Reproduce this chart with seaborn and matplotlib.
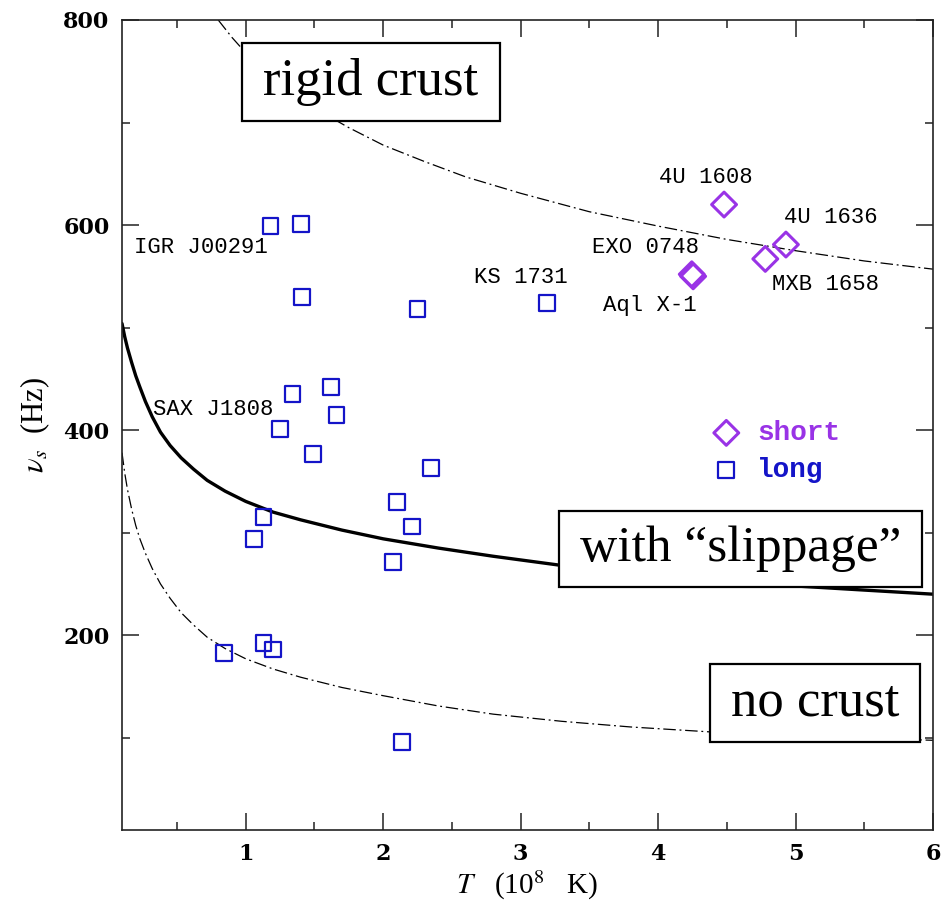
import matplotlib
matplotlib.use("Agg")
import matplotlib.pyplot as plt
from matplotlib.patches import Rectangle
from matplotlib.ticker import MultipleLocator
import seaborn as sns

# Spin frequency vs. core temperature of accreting neutron stars

# Short-recurrence (burst-oscillation) sources
short_names = ["4U 1608", "4U 1636", "MXB 1658", "EXO 0748", "Aql X-1"]
short_T = [4.48, 4.93, 4.78, 4.245, 4.255]
short_nu = [620, 581, 567, 552, 550]

# Long-recurrence sources
long_T = [1.18, 1.40, 1.41, 2.25, 3.19, 1.34, 1.62, 1.66, 1.25, 1.49,
          2.35, 2.10, 2.21, 1.13, 1.06, 2.07, 0.84, 1.13, 1.20, 2.14]
long_nu = [599, 601, 530, 518, 524, 435, 442, 415, 401, 377,
           363, 330, 306, 315, 294, 271, 183, 192, 186, 96]

# Source name annotations
label_text = ["IGR J00291", "SAX J1808", "KS 1731", "4U 1608", "4U 1636",
              "EXO 0748", "MXB 1658", "Aql X-1"]
label_T = [0.675, 0.76, 3.0, 4.35, 5.255, 3.91, 5.22, 3.94]
label_nu = [578, 420, 549, 646, 607, 578, 542, 522]

# Instability curves
rigid_T = [0.8, 0.9, 1.0, 1.15, 1.3, 1.5, 1.75, 2.0, 2.3, 2.6, 3.0, 3.5,
           4.0, 4.5, 5.0, 5.5, 6.0]
rigid_nu = [800, 783, 768, 750, 734, 714, 695, 678, 662, 647, 631, 613,
            599, 586, 575, 565, 557]

slip_T = [0.1, 0.12, 0.14, 0.17, 0.2, 0.23, 0.27, 0.32, 0.38, 0.45, 0.53,
          0.62, 0.72, 0.85, 1.0, 1.2, 1.4, 1.7, 2.0, 2.4, 2.8, 3.3, 3.8,
          4.4, 5.0, 5.5, 6.0]
slip_nu = [504, 491, 480, 466, 453, 442, 428, 413, 398, 385, 373,
           362, 351, 340.5, 330.5, 320, 312.5, 302.5, 294, 285, 277, 268, 261,
           254, 248, 244, 240]

nocrust_T = [0.1, 0.12, 0.14, 0.17, 0.2, 0.23, 0.27, 0.32, 0.38, 0.45, 0.53,
             0.62, 0.72, 0.85, 1.0, 1.2, 1.4, 1.7, 2.0, 2.4, 2.8, 3.3, 3.8,
             4.4, 5.0, 5.5, 6.0]
nocrust_nu = [378, 358, 342, 323, 307, 294, 280, 265, 250, 236, 222,
              210, 198, 187, 177, 167, 159, 149, 141, 131, 123, 116, 110.5,
              105.5, 102, 99.5, 97.5]

box_labels = ["rigid crust", "with \u201cslippage\u201d", "no crust"]
box_x = [0.307, 0.763, 0.8545]
box_y = [0.923, 0.347, 0.157]
box_size = [38, 37, 38]

SHORT_COLOR = "#9933e6"
LONG_COLOR = "#1414c8"

sns.set_theme(style="ticks")
plt.rcParams["mathtext.fontset"] = "stix"
plt.rcParams["font.family"] = ["Liberation Serif", "DejaVu Serif"]
for key in ["text.color", "axes.labelcolor", "xtick.color", "ytick.color",
            "axes.edgecolor"]:
    plt.rcParams[key] = "black"

fig = plt.figure(figsize=(9.45, 9.09), dpi=100)
ax = fig.add_axes([0.1291, 0.0869, 0.8582, 0.8911])

dashdot = (0, (10, 3, 1.5, 3))
sns.lineplot(x=rigid_T, y=rigid_nu, ax=ax, color="black", lw=0.9,
             linestyle=dashdot, sort=False, estimator=None, zorder=2)
sns.lineplot(x=nocrust_T, y=nocrust_nu, ax=ax, color="black", lw=0.9,
             linestyle=dashdot, sort=False, estimator=None, zorder=2)
sns.lineplot(x=slip_T, y=slip_nu, ax=ax, color="black", lw=2.4,
             sort=False, estimator=None, zorder=2)

sns.scatterplot(x=short_T, y=short_nu, ax=ax, marker="D", s=160,
                color=SHORT_COLOR, facecolor="none", edgecolor=SHORT_COLOR,
                linewidth=2.2, label="short", zorder=4)
sns.scatterplot(x=long_T, y=long_nu, ax=ax, marker="s", s=130,
                color=LONG_COLOR, facecolor="none", edgecolor=LONG_COLOR,
                linewidth=1.6, label="long", zorder=4)

for txt, tx, ty in zip(label_text, label_T, label_nu):
    ax.text(tx, ty, txt, ha="center", va="center", fontsize=16,
            family="Liberation Mono", color="black", zorder=5)

box_texts = []
for txt, bx, by, fs in zip(box_labels, box_x, box_y, box_size):
    box_texts.append(ax.text(bx, by, txt, transform=ax.transAxes,
                             ha="center", va="center", fontsize=fs,
                             family="Liberation Serif", zorder=7))

leg = ax.legend(loc="center left", bbox_to_anchor=(0.728, 0.467),
                frameon=False, handlelength=1.0, handletextpad=0.6,
                labelspacing=0.4, borderpad=0, borderaxespad=0,
                prop=dict(family="Liberation Mono", weight="bold", size=20))
for t, c in zip(leg.get_texts(), [SHORT_COLOR, LONG_COLOR]):
    t.set_color(c)

ax.set_xlim(0.1, 6)
ax.set_ylim(10, 800)
ax.xaxis.set_major_locator(MultipleLocator(1))
ax.xaxis.set_minor_locator(MultipleLocator(0.5))
ax.yaxis.set_major_locator(MultipleLocator(200))
ax.yaxis.set_minor_locator(MultipleLocator(100))
ax.set_xticks([1, 2, 3, 4, 5, 6])
ax.tick_params(which="both", direction="in", top=True, right=True,
               color="#222222", width=1.1)
ax.tick_params(which="major", length=12, pad=9)
ax.tick_params(which="minor", length=6)
for lab in ax.get_xticklabels() + ax.get_yticklabels():
    lab.set_family("DejaVu Serif")
    lab.set_fontweight("bold")
    lab.set_fontsize(16)
for sp in ax.spines.values():
    sp.set_color("#222222")
    sp.set_linewidth(1.2)

ax.set_xlabel(r"$T$   (10$^{8}$   K)", fontsize=21, labelpad=3)
ax.set_ylabel(r"$\nu_s$  (Hz)", fontsize=22, labelpad=8)

# White framed boxes behind the region labels
fig.canvas.draw()
renderer = fig.canvas.get_renderer()
inv = ax.transAxes.inverted()
pad_x, pad_y = 21, 15
for t in box_texts:
    bb = t.get_window_extent(renderer)
    x0, y0 = inv.transform((bb.x0 - pad_x, bb.y0 - pad_y))
    x1, y1 = inv.transform((bb.x1 + pad_x, bb.y1 + pad_y))
    ax.add_patch(Rectangle((x0, y0), x1 - x0, y1 - y0, transform=ax.transAxes,
                           fc="white", ec="black", lw=1.6, zorder=6,
                           clip_on=False))

fig.savefig("out.png", dpi=100)
